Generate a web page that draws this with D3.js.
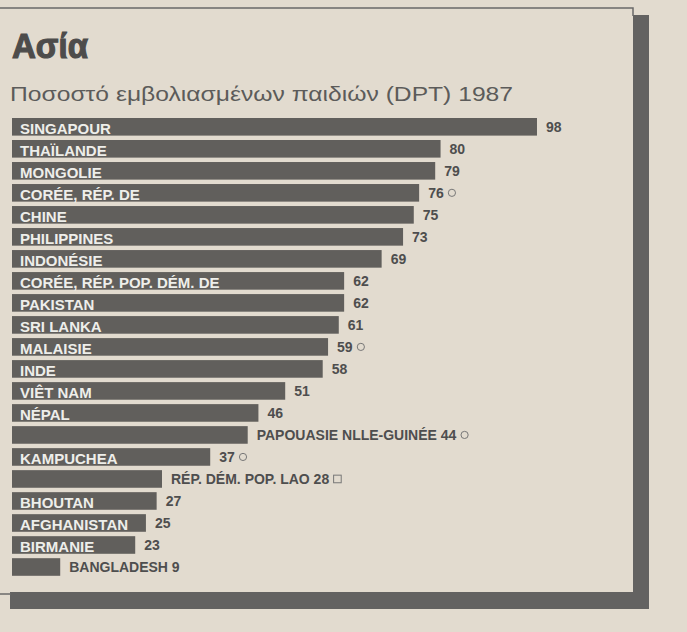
<!DOCTYPE html>
<html>
<head>
<meta charset="utf-8">
<script src="https://cdn.jsdelivr.net/npm/d3@7"></script>
<style>
  html, body { margin: 0; padding: 0; background: #e2dbcf; }
  svg { display: block; }
</style>
</head>
<body>
<div id="chart"></div>
<script>
// ---- data ----
const title = "Ασία";
const subtitle = "Ποσοστό εμβολιασμένων παιδιών (DPT) 1987";
const countries = ["SINGAPOUR","THAÏLANDE","MONGOLIE","CORÉE, RÉP. DE","CHINE","PHILIPPINES","INDONÉSIE",
  "CORÉE, RÉP. POP. DÉM. DE","PAKISTAN","SRI LANKA","MALAISIE","INDE","VIÊT NAM","NÉPAL",
  "PAPOUASIE NLLE-GUINÉE","KAMPUCHEA","RÉP. DÉM. POP. LAO","BHOUTAN","AFGHANISTAN","BIRMANIE","BANGLADESH"];
const values = [98,80,79,76,75,73,69,62,62,61,59,58,51,46,44,37,28,27,25,23,9];
const markers = ["","","","circle","","","","","","","circle","","","","circle","circle","square","","","",""];
const outsideLabels = ["PAPOUASIE NLLE-GUINÉE","RÉP. DÉM. POP. LAO","BANGLADESH"];

// ---- layout ----
const W = 687, H = 632;
const paper = "#e2dbcf", barFill = "#615f5c", barText = "#eeeeea";

const svg = d3.select("#chart").append("svg").attr("width", W).attr("height", H);
svg.append("rect").attr("width", W).attr("height", H).attr("fill", paper);

// frame with drop shadow
svg.append("rect").attr("x", 633).attr("y", 15).attr("width", 16).attr("height", 594).attr("fill", "#636261");
svg.append("rect").attr("x", 10).attr("y", 592).attr("width", 639).attr("height", 17).attr("fill", "#636261");
svg.append("path").attr("d", "M0,8 H633 V16").attr("fill", "none").attr("stroke", "#6a6a6a").attr("stroke-width", 1.5);
svg.append("path").attr("d", "M0,594 H11").attr("fill", "none").attr("stroke", "#6a6a6a").attr("stroke-width", 1.5);

// titles
svg.append("text").attr("x", 12).attr("y", 58)
  .attr("font-family", "Liberation Sans, Arial, sans-serif").attr("font-weight", 700)
  .attr("font-size", 35).attr("fill", "#4d4c4b")
  .attr("stroke", "#4d4c4b").attr("stroke-width", 1.2)
  .attr("textLength", 76).attr("lengthAdjust", "spacingAndGlyphs")
  .text(title);
svg.append("text").attr("x", 10).attr("y", 101)
  .attr("font-family", "Liberation Sans, Arial, sans-serif").attr("font-weight", 400)
  .attr("font-size", 20).attr("fill", "#5c5b5a")
  .attr("textLength", 503).attr("lengthAdjust", "spacingAndGlyphs")
  .text(subtitle);

// scales
const x = d3.scaleLinear().domain([0, 100]).range([12, 547.7]);
const y = d3.scaleBand().domain(countries).range([118, 118 + countries.length * 21.8]).paddingInner(0.2).paddingOuter(0);

const rows = countries.map((c, i) => ({ name: c, value: values[i], marker: markers[i], outside: outsideLabels.includes(c) }));

const g = svg.append("g").attr("font-family", "Liberation Sans, Arial, sans-serif").attr("font-weight", 700);

g.selectAll("rect.bar").data(rows).join("rect").attr("class", "bar")
  .attr("x", x(0)).attr("y", d => y(d.name))
  .attr("width", d => x(d.value) - x(0)).attr("height", y.bandwidth())
  .attr("fill", barFill);

// names inside bars
g.selectAll("text.name").data(rows.filter(d => !d.outside)).join("text").attr("class", "name")
  .attr("x", x(0) + 8).attr("y", d => y(d.name) + y.bandwidth() - 2)
  .attr("font-size", 15).attr("fill", barText)
  .text(d => d.name);

// value labels (and outside names)
const vl = g.selectAll("text.val").data(rows).join("text").attr("class", "val")
  .attr("x", d => x(d.value) + 9).attr("y", d => y(d.name) + y.bandwidth() / 2 + 5)
  .attr("font-size", 14).attr("fill", "#4e4e4e")
  .text(d => d.outside ? d.name + " " + d.value : String(d.value));

// markers
vl.each(function(d) {
  if (!d.marker) return;
  const bb = this.getBBox();
  const cx = bb.x + bb.width + 8, cy = y(d.name) + y.bandwidth() / 2;
  if (d.marker === "circle") {
    g.append("circle").attr("cx", cx).attr("cy", cy).attr("r", 3.6)
      .attr("fill", "none").attr("stroke", "#777").attr("stroke-width", 1);
  } else {
    g.append("rect").attr("x", cx - 3.8).attr("y", cy - 3.8).attr("width", 7.6).attr("height", 7.6)
      .attr("fill", "none").attr("stroke", "#777").attr("stroke-width", 1);
  }
});
</script>
</body>
</html>
